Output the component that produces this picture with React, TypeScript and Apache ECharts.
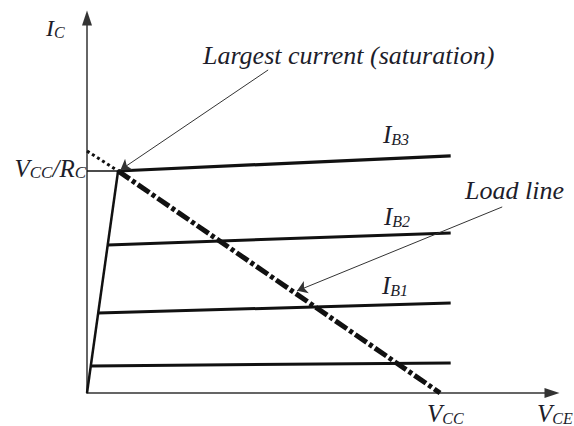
import React, { useEffect, useRef } from 'react';
import * as echarts from 'echarts';

// Characteristic curves (VCE in volts, IC in mA; Vcc = 10, Vcc/Rc = 10)
const steepLine = [[0, 0], [0.88, 10.0]];
const ib0 = [[0.11, 1.22], [10.3, 1.35]];
const ib1 = [[0.32, 3.6], [10.3, 4.05]];
const ib2 = [[0.59, 6.67], [10.3, 7.21]];
const ib3 = [[0.88, 10.0], [10.3, 10.68]];
const loadLineDotted = [[0, 10.9], [0.88, 10.0]];
const loadLine = [[0.88, 10.0], [10, 0]];
const vccRcLevel = [[0, 10], [0.88, 10]];
const saturationPointer = [[5.13, 14.55], [0.95, 10.05]];
const loadLinePointer = [[11.76, 8.38], [5.95, 4.6]];
const xMax = 13.17;
const yMax = 16.89;

const FONT = '"Liberation Serif", "Times New Roman", serif';
const TXT = '#1d1d2b';
const INK = '#111';

function richLabel(parts: [string, boolean][], big: number, small: number) {
  const text = parts.map(([t, isBig]) => `{${isBig ? 'a' : 'b'}|${t}}`).join('');
  const tok = (size: number) => ({
    fontSize: size,
    fontFamily: FONT,
    fontStyle: 'italic',
    fill: TXT,
    color: TXT,
    lineHeight: size,
    verticalAlign: 'bottom',
  });
  return { text, rich: { a: tok(big), b: tok(small) } };
}

function textEl(x: number, y: number, parts: [string, boolean][], big: number, small: number, align = 'left') {
  const r = richLabel(parts, big, small);
  return {
    type: 'text',
    x,
    y,
    silent: true,
    style: {
      text: r.text,
      rich: r.rich,
      fill: TXT,
      font: `italic ${big}px ${FONT}`,
      textAlign: align,
      align,
      textVerticalAlign: 'bottom',
      verticalAlign: 'bottom',
    },
  };
}

function plainText(x: number, y: number, text: string, size: number) {
  return {
    type: 'text',
    x,
    y,
    silent: true,
    style: {
      text,
      fill: TXT,
      font: `italic ${size}px ${FONT}`,
      textAlign: 'left',
      textVerticalAlign: 'bottom',
      verticalAlign: 'bottom',
    },
  };
}

export default function App() {
  const ref = useRef<HTMLDivElement>(null);
  useEffect(() => {
    document.body.style.margin = '0';
    const chart = echarts.init(ref.current!, null, { renderer: 'svg' });
    const lineSeries = (data: number[][], width: number, type: any = 'solid', extra: any = {}) => ({
      type: 'line',
      data,
      showSymbol: false,
      silent: true,
      lineStyle: { color: INK, width, type, cap: 'butt', ...extra },
      z: 3,
    });
    chart.setOption({
      animation: false,
      backgroundColor: '#ffffff',
      grid: { left: 87, right: 22, top: 18, bottom: 33 },
      xAxis: {
        type: 'value',
        min: 0,
        max: xMax,
        axisLine: { show: true, onZero: false, symbol: ['none', 'triangle'], symbolSize: [10, 15], lineStyle: { color: '#333', width: 1.5 } },
        axisTick: { show: false },
        axisLabel: { show: false },
        splitLine: { show: false },
      },
      yAxis: {
        type: 'value',
        min: 0,
        max: yMax,
        axisLine: { show: true, onZero: false, symbol: ['none', 'triangle'], symbolSize: [10, 15], lineStyle: { color: '#333', width: 1.5 } },
        axisTick: { show: false },
        axisLabel: { show: false },
        splitLine: { show: false },
      },
      series: [
        lineSeries(steepLine, 2.5),
        lineSeries(ib0, 3),
        lineSeries(ib1, 3),
        lineSeries(ib2, 3),
        lineSeries(ib3, 3.2),
        lineSeries(vccRcLevel, 1.5),
        lineSeries(loadLineDotted, 3, [3, 3]),
        lineSeries(loadLine, 5, [14, 3, 4, 3]),
        {
          type: 'lines',
          coordinateSystem: 'cartesian2d',
          silent: true,
          symbol: ['none', 'arrow'],
          symbolSize: 10,
          lineStyle: { color: '#333', width: 1, opacity: 1, curveness: 0 },
          data: [{ coords: saturationPointer }, { coords: loadLinePointer }],
          z: 4,
        },
      ],
      graphic: [
        textEl(46, 40, [['I', true], ['C', false]], 24, 16),
        textEl(86, 181, [['V', true], ['CC', false], ['/R', true], ['C', false]], 25, 17, 'right'),
        textEl(383, 147, [['I', true], ['B3', false]], 25, 16),
        textEl(384, 229, [['I', true], ['B2', false]], 25, 16),
        textEl(382, 298, [['I', true], ['B1', false]], 25, 16),
        textEl(427, 426, [['V', true], ['CC', false]], 25, 16),
        textEl(537, 426, [['V', true], ['CE', false]], 25, 16),
        plainText(203, 68, 'Largest current (saturation)', 26),
        plainText(465, 203, 'Load line', 26),
      ],
    });
    return () => chart.dispose();
  }, []);
  return <div ref={ref} style={{ width: 574, height: 426 }} />;
}
